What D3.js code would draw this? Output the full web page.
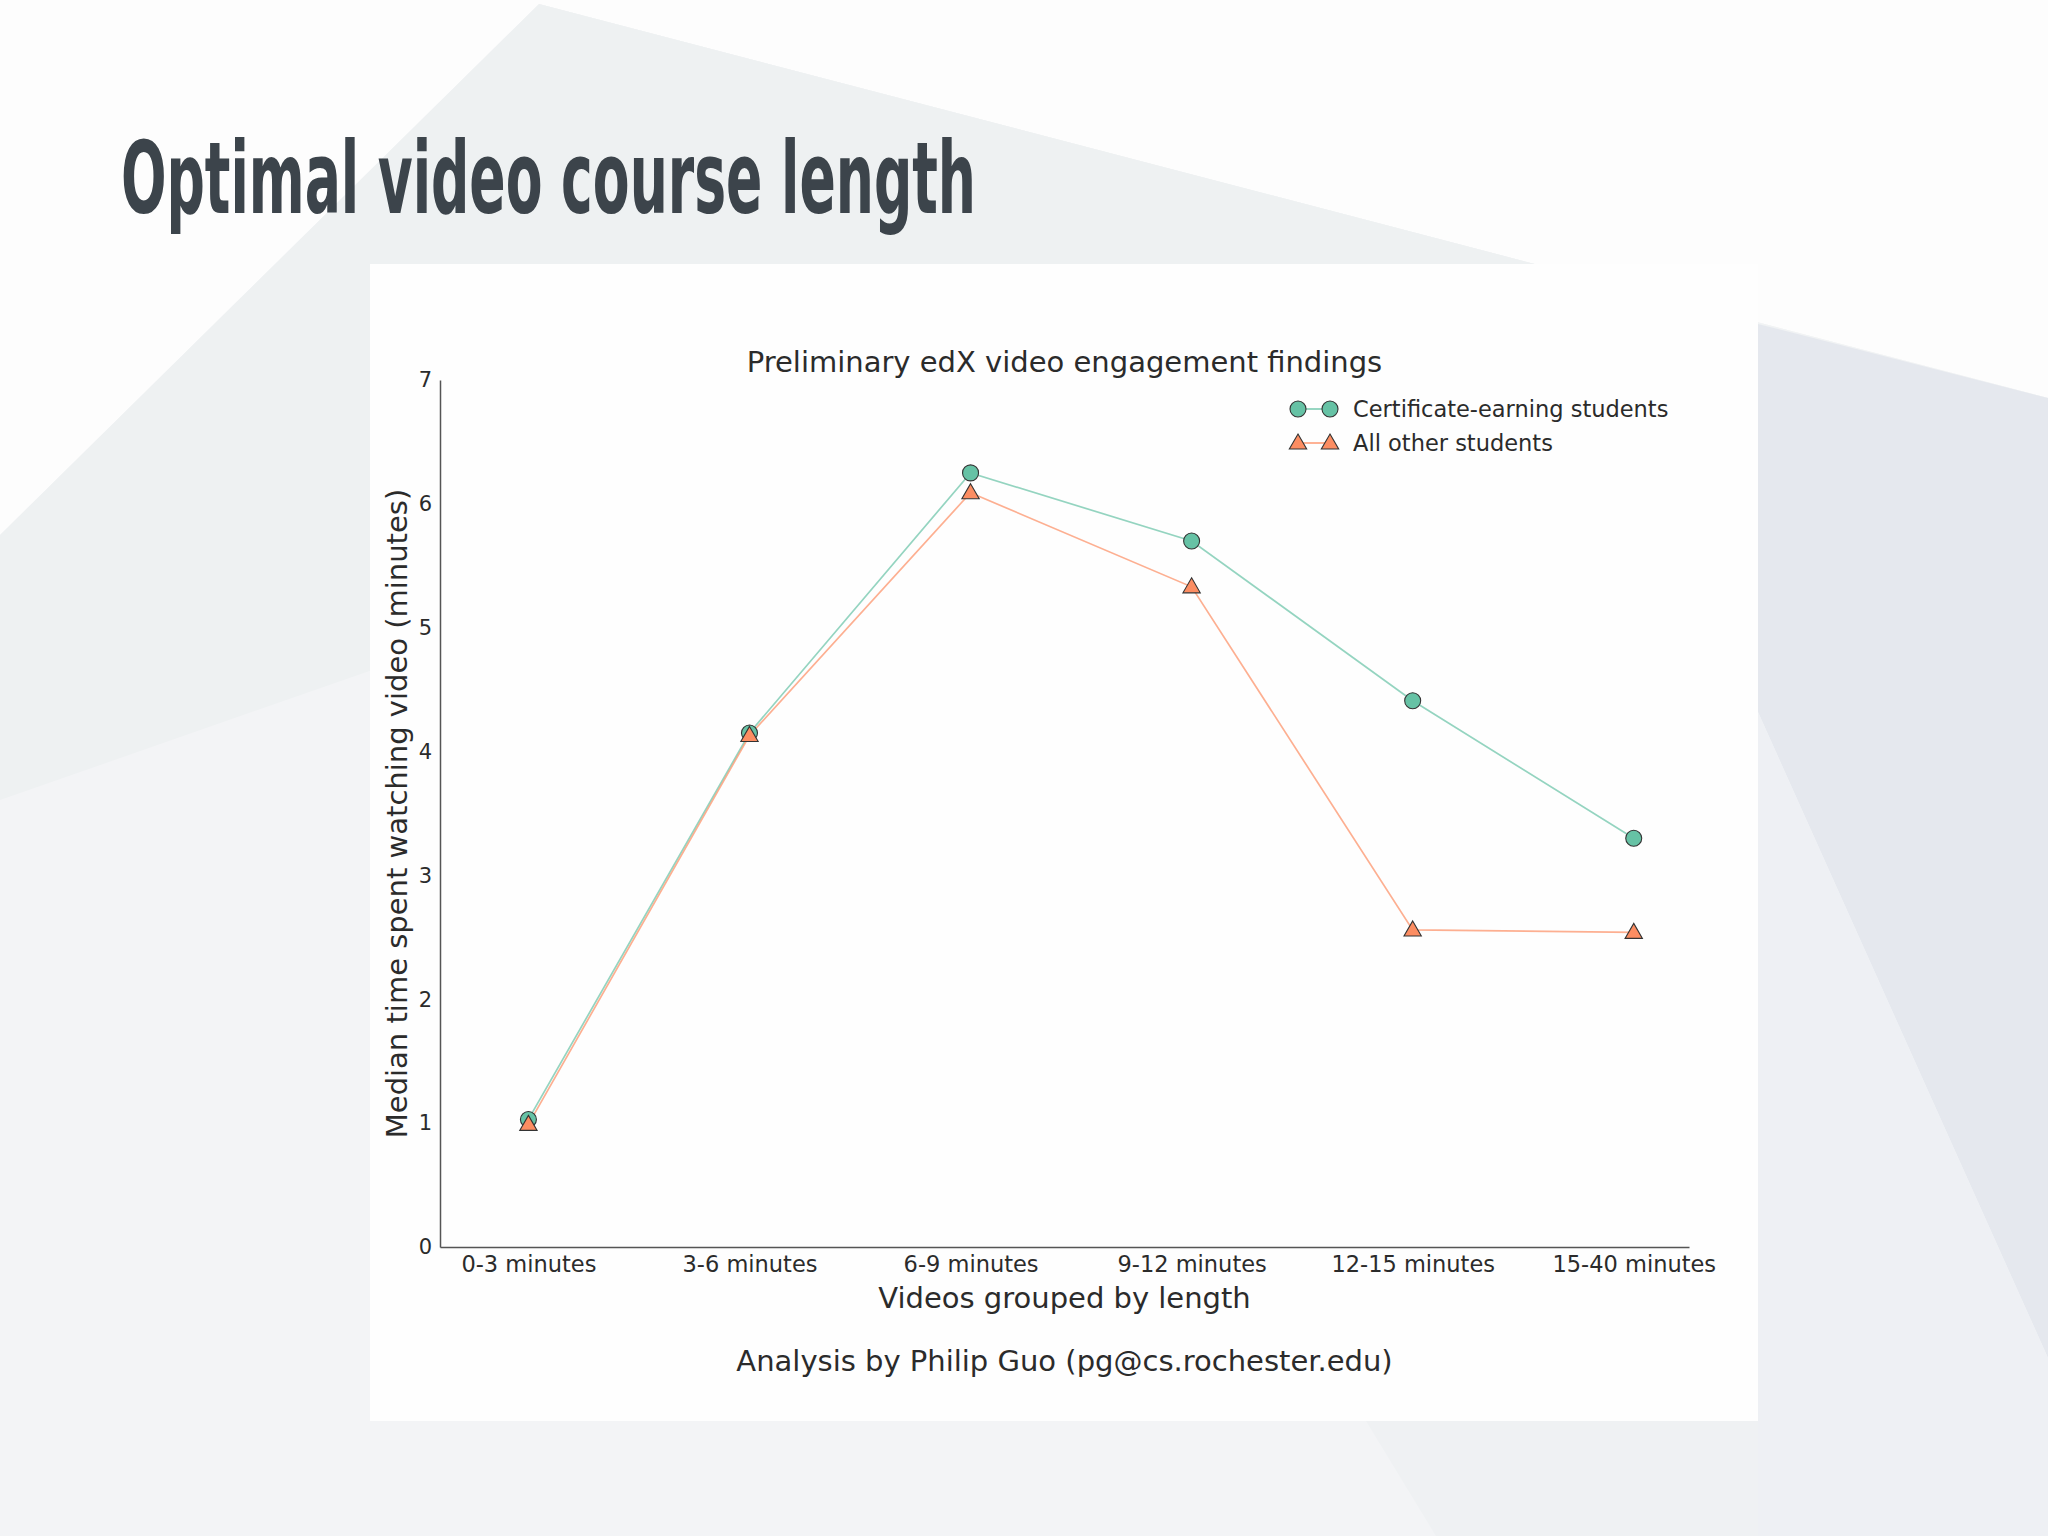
<!DOCTYPE html>
<html>
<head>
<meta charset="utf-8">
<script src="https://cdn.jsdelivr.net/npm/d3@7"></script>
<style>
html,body{margin:0;padding:0;background:#f4f5f7;}
svg{display:block;}
</style>
</head>
<body>
<svg id="chart" width="2048" height="1536"></svg>
<script>
const categories = ["0-3 minutes","3-6 minutes","6-9 minutes","9-12 minutes","12-15 minutes","15-40 minutes"];
const certificateValues = [1.03, 4.15, 6.25, 5.70, 4.41, 3.30];
const otherValues = [0.99, 4.13, 6.09, 5.33, 2.56, 2.54];
const yTicks = [0,1,2,3,4,5,6,7];
const seriesNames = ["Certificate-earning students","All other students"];

(function(){
const svg = d3.select("#chart");
const W = 2048, H = 1536;

// background slide shapes
const bg = svg.append("g");
bg.append("rect").attr("width",W).attr("height",H).attr("fill","#f3f4f6");
bg.append("polygon").attr("points","0,0 2048,0 2048,398 539,4 0,535").attr("fill","#fdfdfd");
bg.append("polygon").attr("points","539,4 2048,398 2048,1358 1758,712").attr("fill","#f1f3f4");
bg.append("polygon").attr("points","0,535 539,4 1535,264 0,800").attr("fill","#eef1f2");
bg.append("polygon").attr("points","1758,324 2048,398 2048,1358 1758,712").attr("fill","#e5e8ee");
bg.append("polygon").attr("points","1758,712 2048,1358 2048,1536 1758,1536").attr("fill","#eef0f4");
bg.append("polygon").attr("points","1366,1421 1758,1421 1758,1536 1436,1536").attr("fill","#eff1f3");

// title
svg.append("text")
  .attr("x",121).attr("y",213)
  .attr("font-family","'DejaVu Sans Condensed','DejaVu Sans',sans-serif")
  .attr("font-weight","bold")
  .attr("font-size",100)
  .attr("fill","#3c444b")
  .attr("textLength",855).attr("lengthAdjust","spacingAndGlyphs")
  .text("Optimal video course length");

// white panel
svg.append("rect").attr("x",370).attr("y",264).attr("width",1388).attr("height",1157).attr("fill","#fefefe");

const mLeft = 440, mRight = 1689, mTop = 380, mBottom = 1247;
const x = d3.scaleLinear().domain([-0.4, 5.25]).range([mLeft, mRight]);
const y = d3.scaleLinear().domain([0, 7]).range([mBottom, mTop]);

const font = "'DejaVu Sans',sans-serif";
const txt = "#2b2b2b";

// axes
const xAxis = d3.axisBottom(x).tickValues(d3.range(categories.length)).tickFormat(i => categories[i]).tickSize(0).tickPadding(8);
const yAxis = d3.axisLeft(y).tickValues(yTicks).tickFormat(d3.format("d")).tickSize(0).tickPadding(8);

const gx = svg.append("g").attr("transform",`translate(0,${mBottom})`).call(xAxis);
const gy = svg.append("g").attr("transform",`translate(${mLeft},0)`).call(yAxis);
[gx,gy].forEach(g=>{
  g.select(".domain").attr("stroke","#555").attr("stroke-width",1.5);
  g.selectAll("text").attr("font-family",font).attr("font-size",22.5).attr("fill",txt);
});
gy.selectAll("text").attr("font-size",21);
gx.selectAll("text").attr("dy","0.75em");

// axis labels
svg.append("text").attr("x",(mLeft+mRight)/2).attr("y",1308).attr("text-anchor","middle")
  .attr("font-family",font).attr("font-size",29).attr("fill",txt).text("Videos grouped by length");
svg.append("text").attr("transform",`translate(407,${(mTop+mBottom)/2}) rotate(-90)`).attr("text-anchor","middle")
  .attr("font-family",font).attr("font-size",29).attr("fill",txt).text("Median time spent watching video (minutes)");
svg.append("text").attr("x",(mLeft+mRight)/2).attr("y",372).attr("text-anchor","middle")
  .attr("font-family",font).attr("font-size",29).attr("fill",txt).text("Preliminary edX video engagement findings");
svg.append("text").attr("x",(mLeft+mRight)/2).attr("y",1371).attr("text-anchor","middle")
  .attr("font-family",font).attr("font-size",29).attr("fill",txt).text("Analysis by Philip Guo (pg@cs.rochester.edu)");

const colors = ["#66c2a5","#fc8d62"];
const series = [certificateValues, otherValues];
const line = d3.line().x((d,i)=>x(i)).y(d=>y(d));
const tri = d3.symbol().type(d3.symbolTriangle).size(130);

series.forEach((vals,si)=>{
  svg.append("path").attr("d",line(vals)).attr("fill","none")
    .attr("stroke",colors[si]).attr("stroke-opacity",0.7).attr("stroke-width",1.7);
});
series.forEach((vals,si)=>{
  const g = svg.append("g");
  vals.forEach((v,i)=>{
    if(si===0){
      g.append("circle").attr("cx",x(i)).attr("cy",y(v)).attr("r",8)
        .attr("fill",colors[0]).attr("stroke","#333").attr("stroke-width",1.1);
    } else {
      g.append("path").attr("d",tri).attr("transform",`translate(${x(i)},${y(v)+1})`)
        .attr("fill",colors[1]).attr("stroke","#333").attr("stroke-width",1.1);
    }
  });
});

// legend
const lg = svg.append("g");
const legY = [409, 443];
seriesNames.forEach((name,si)=>{
  const yy = legY[si];
  lg.append("line").attr("x1",1298).attr("x2",1330).attr("y1",yy).attr("y2",yy)
    .attr("stroke",colors[si]).attr("stroke-opacity",0.8).attr("stroke-width",1.7);
  [1298,1330].forEach(cx=>{
    if(si===0){
      lg.append("circle").attr("cx",cx).attr("cy",yy).attr("r",8)
        .attr("fill",colors[0]).attr("stroke","#333").attr("stroke-width",1.1);
    } else {
      lg.append("path").attr("d",tri).attr("transform",`translate(${cx},${yy+1})`)
        .attr("fill",colors[1]).attr("stroke","#333").attr("stroke-width",1.1);
    }
  });
  lg.append("text").attr("x",1353).attr("y",yy).attr("dy","0.35em")
    .attr("font-family",font).attr("font-size",22.5).attr("fill",txt).text(name);
});
})();
</script>
</body>
</html>
